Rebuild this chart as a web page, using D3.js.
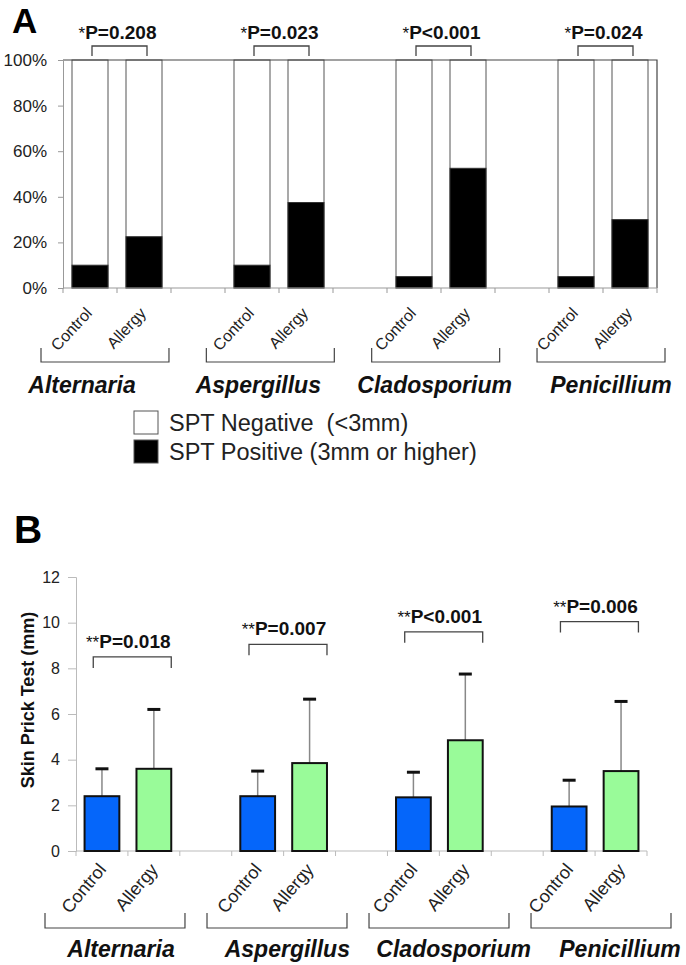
<!DOCTYPE html>
<html><head><meta charset="utf-8">
<script src="https://cdn.jsdelivr.net/npm/d3@7"></script>
<style>body{margin:0;background:#fff}svg{display:block}text{font-family:Arial,"Liberation Sans",sans-serif}</style>
</head><body><svg id="c" width="686" height="965"></svg>
<script>
// ---------- data ----------
const fungi = ["Alternaria", "Aspergillus", "Cladosporium", "Penicillium"];
const groups = ["Control", "Allergy"];

// Panel A : % SPT positive
const yTicksA = [0, 20, 40, 60, 80, 100];
const sptPositiveControl = [10, 10, 5, 5];
const sptPositiveAllergy = [22.5, 37.5, 52.5, 30];
const pTextA = ["P=0.208", "P=0.023", "P<0.001", "P=0.024"];
const legendLabels = ["SPT Negative  (<3mm)", "SPT Positive (3mm or higher)"];

// Panel B : wheal size (mm)
const yTicksB = [0, 2, 4, 6, 8, 10, 12];
const controlMean = [2.4, 2.4, 2.35, 1.95];
const controlUpper = [3.6, 3.5, 3.45, 3.1];
const allergyMean = [3.6, 3.85, 4.85, 3.5];
const allergyUpper = [6.2, 6.65, 7.75, 6.55];
const pTextB = ["P=0.018", "P=0.007", "P<0.001", "P=0.006"];
const bracketLevelB = [8.5, 9.05, 9.6, 10.05];

// ---------- helpers ----------
const svg = d3.select("#c");
const slots = [];
fungi.forEach((f, i) => { if (i > 0) slots.push("gap" + i); groups.forEach(g => slots.push(f + "|" + g)); });
const key = (f, g) => f + "|" + g;
const DARK = "#222";

function slotTicks(g, x, y0, len, color) {
  const r = x.range();
  const b = d3.range(slots.length + 1).map(i => r[0] + i * x.step());
  g.append("line").attr("x1", r[0]).attr("x2", r[1]).attr("y1", y0).attr("y2", y0).attr("stroke", color);
  g.selectAll(null).data(b).join("line")
    .attr("x1", d => d).attr("x2", d => d).attr("y1", y0).attr("y2", y0 + len).attr("stroke", color);
}

// ================= PANEL A =================
const gA = svg.append("g");
const xA = d3.scaleBand().domain(slots).range([63, 657]).paddingInner(1 / 3).paddingOuter(1 / 6);
const yA = d3.scaleLinear().domain([0, 100]).range([288, 60]);
const bwA = xA.bandwidth();

gA.append("text").attr("x", 12).attr("y", 33).attr("font-size", 35).attr("font-weight", "bold").text("A");

const barsA = [];
fungi.forEach((f, i) => {
  barsA.push({ k: key(f, "Control"), v: sptPositiveControl[i] });
  barsA.push({ k: key(f, "Allergy"), v: sptPositiveAllergy[i] });
});
gA.selectAll(".neg").data(barsA).join("rect")
  .attr("x", d => xA(d.k)).attr("width", bwA)
  .attr("y", yA(100)).attr("height", yA(0) - yA(100))
  .attr("fill", "#fff").attr("stroke", "#555").attr("stroke-width", 1);
gA.selectAll(".pos").data(barsA).join("rect")
  .attr("x", d => xA(d.k)).attr("width", bwA)
  .attr("y", d => yA(d.v)).attr("height", d => yA(0) - yA(d.v))
  .attr("fill", "#000").attr("stroke", "#333").attr("stroke-width", 1);

// frame top & right
gA.append("path").attr("d", `M${xA.range()[0]},${yA(100)}H${xA.range()[1]}V${yA(0)}`)
  .attr("fill", "none").attr("stroke", "#444").attr("stroke-width", 1.2);

// y axis
const axA = gA.append("g").attr("transform", `translate(63,0)`)
  .call(d3.axisLeft(yA).tickValues(yTicksA).tickFormat(d => d + "%").tickSize(5).tickPadding(11));
axA.select(".domain").attr("stroke", "#999");
axA.selectAll(".tick line").attr("stroke", "#999");
axA.selectAll(".tick text").attr("font-size", 17).attr("fill", DARK);
slotTicks(gA, xA, yA(0), 5, "#999");

// category labels
gA.selectAll(".lblA").data(barsA).join("text")
  .attr("transform", d => `translate(${xA(d.k) + bwA / 2 + 3},314) rotate(-47)`)
  .attr("text-anchor", "end").attr("font-size", 16).attr("fill", DARK)
  .text(d => d.k.split("|")[1]);

// p-value brackets
fungi.forEach((f, i) => {
  const x1 = xA(key(f, "Control")) + bwA / 2 + 2, x2 = xA(key(f, "Allergy")) + bwA / 2 + 3;
  const yt = yA(100) - 14, yb = yA(100) - 4;
  gA.append("path").attr("d", `M${x1},${yb}V${yt}H${x2}V${yb}`).attr("fill", "none").attr("stroke", "#444").attr("stroke-width", 1.3);
  const t = gA.append("text").attr("x", (x1 + x2) / 2 - 2).attr("y", 39).attr("text-anchor", "middle").attr("fill", "#111");
  t.append("tspan").attr("font-size", 17).text("*");
  t.append("tspan").attr("font-size", 19).attr("font-weight", "bold").text(pTextA[i]);
});

// group brackets + names
const grpA = d3.scaleBand().domain(fungi).range([41, 665]).paddingInner(0.226);
gA.selectAll(".gbA").data(fungi).join("path")
  .attr("d", d => `M${grpA(d)},348V362H${grpA(d) + grpA.bandwidth()}V348`)
  .attr("fill", "none").attr("stroke", "#444").attr("stroke-width", 1.2);
const nameA = d3.scalePoint().domain(fungi).range([82, 611]);
gA.selectAll(".nA").data(fungi).join("text")
  .attr("x", d => nameA(d)).attr("y", 393).attr("text-anchor", "middle")
  .attr("font-size", 23).attr("font-weight", "bold").attr("font-style", "italic").attr("fill", "#111").text(d => d);

// legend
const legFill = ["#fff", "#000"];
legendLabels.forEach((l, i) => {
  const y0 = 411 + i * 29;
  gA.append("rect").attr("x", 134).attr("y", y0).attr("width", 24).attr("height", 23)
    .attr("fill", legFill[i]).attr("stroke", "#555").attr("stroke-width", 1);
  gA.append("text").attr("x", 169).attr("y", y0 + 20).attr("font-size", 23.5).attr("fill", DARK)
    .style("white-space", "pre").text(l);
});

// ================= PANEL B =================
const gB = svg.append("g");
const xB = d3.scaleBand().domain(slots).range([76, 647]).paddingInner(0.33).paddingOuter(0.165);
const yB = d3.scaleLinear().domain([0, 12]).range([851, 577]);
const bwB = xB.bandwidth();

gB.append("text").attr("x", 14).attr("y", 543).attr("font-size", 39).attr("font-weight", "bold").text("B");

const axB = gB.append("g").attr("transform", `translate(76,0)`)
  .call(d3.axisLeft(yB).tickValues(yTicksB).tickSize(8).tickPadding(8));
axB.select(".domain").attr("stroke", "#bbb");
axB.selectAll(".tick line").attr("stroke", "#bbb");
axB.selectAll(".tick text").attr("font-size", 16).attr("fill", DARK);
slotTicks(gB, xB, yB(0), 5, "#bbb");

gB.append("text").attr("transform", "translate(34,700) rotate(-90)").attr("text-anchor", "middle")
  .attr("font-size", 18).attr("font-weight", "bold").attr("fill", "#111").text("Skin Prick Test (mm)");

const barsB = [];
fungi.forEach((f, i) => {
  barsB.push({ k: key(f, "Control"), m: controlMean[i], u: controlUpper[i], c: "#0566FA" });
  barsB.push({ k: key(f, "Allergy"), m: allergyMean[i], u: allergyUpper[i], c: "#99FB99" });
});
// error bars
gB.selectAll(".eb").data(barsB).join("line")
  .attr("x1", d => xB(d.k) + bwB / 2).attr("x2", d => xB(d.k) + bwB / 2)
  .attr("y1", d => yB(d.m)).attr("y2", d => yB(d.u)).attr("stroke", "#888").attr("stroke-width", 1.5);
gB.selectAll(".cap").data(barsB).join("line")
  .attr("x1", d => xB(d.k) + bwB / 2 - 6.5).attr("x2", d => xB(d.k) + bwB / 2 + 6.5)
  .attr("y1", d => yB(d.u)).attr("y2", d => yB(d.u)).attr("stroke", "#111").attr("stroke-width", 3);
gB.selectAll(".bar").data(barsB).join("rect")
  .attr("x", d => xB(d.k)).attr("width", bwB)
  .attr("y", d => yB(d.m)).attr("height", d => yB(0) - yB(d.m))
  .attr("fill", d => d.c).attr("stroke", "#111").attr("stroke-width", 2);

// category labels
gB.selectAll(".lblB").data(barsB).join("text")
  .attr("transform", d => `translate(${xB(d.k) + bwB / 2 + 5},870) rotate(-50)`)
  .attr("text-anchor", "end").attr("font-size", 18).attr("fill", DARK)
  .text(d => d.k.split("|")[1]);

// p-value brackets
fungi.forEach((f, i) => {
  const x1 = xB(key(f, "Control")) + bwB * 0.25, x2 = xB(key(f, "Allergy")) + bwB;
  const yt = yB(bracketLevelB[i]), yb = yt + 11;
  gB.append("path").attr("d", `M${x1},${yb}V${yt}H${x2}V${yb}`).attr("fill", "none").attr("stroke", "#444").attr("stroke-width", 1.3);
  const t = gB.append("text").attr("x", (x1 + x2) / 2 - 4).attr("y", yt - 9).attr("text-anchor", "middle").attr("fill", "#111");
  t.append("tspan").attr("font-size", 17).text("**");
  t.append("tspan").attr("font-size", 19).attr("font-weight", "bold").text(pTextB[i]);
});

// group brackets + names
const grpB = d3.scaleBand().domain(fungi).range([45, 671]).paddingInner(0.136);
gB.selectAll(".gbB").data(fungi).join("path")
  .attr("d", d => `M${grpB(d)},913V928H${grpB(d) + grpB.bandwidth()}V913`)
  .attr("fill", "none").attr("stroke", "#444").attr("stroke-width", 1.2);
const nameB = d3.scalePoint().domain(fungi).range([121, 620]);
gB.selectAll(".nB").data(fungi).join("text")
  .attr("x", d => nameB(d)).attr("y", 957).attr("text-anchor", "middle")
  .attr("font-size", 23).attr("font-weight", "bold").attr("font-style", "italic").attr("fill", "#111").text(d => d);
</script></body></html>
